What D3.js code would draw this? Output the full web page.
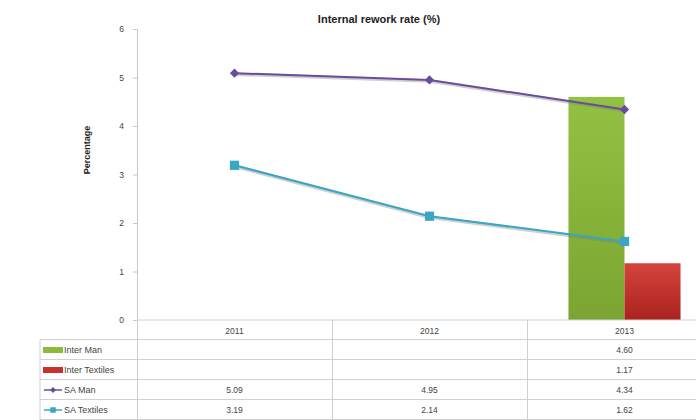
<!DOCTYPE html>
<html>
<head>
<meta charset="utf-8">
<script src="https://cdn.jsdelivr.net/npm/d3@7"></script>
<style>
  body { margin: 0; background: #fff; }
  text { font-family: "Liberation Sans", Arial, sans-serif; }
</style>
</head>
<body>
<svg id="chart" width="696" height="420"></svg>
<script>
var years = ["2011", "2012", "2013"];
var barSeries = ["Inter Man", "Inter Textiles"];
var interMan = [null, null, 4.60];
var interTextiles = [null, null, 1.17];
var saMan = [5.09, 4.95, 4.34];
var saTextiles = [3.19, 2.14, 1.62];
var yTicks = [0, 1, 2, 3, 4, 5, 6];

var svg = d3.select("#chart");
var plotLeft = 137, plotRight = 722, plotTop = 29, plotBottom = 320;
var rowH = 20, tableLeft = 40;

var x = d3.scaleBand().domain(years).range([plotLeft, plotRight]);
var y = d3.scaleLinear().domain([0, 6]).range([plotBottom, plotTop]);
var xInner = d3.scaleBand().domain(barSeries).range([0, x.bandwidth()])
    .paddingInner(0).paddingOuter(0.74);

// gradients for the bars
var defs = svg.append("defs");
function grad(id, c1, c2) {
    var g = defs.append("linearGradient").attr("id", id)
        .attr("x1", 0).attr("y1", 0).attr("x2", 0).attr("y2", 1);
    g.append("stop").attr("offset", "0%").attr("stop-color", c1);
    g.append("stop").attr("offset", "100%").attr("stop-color", c2);
}
grad("gGreen", "#93C143", "#7BA532");
grad("gRed", "#D6443C", "#A9221F");

var barData = [];
years.forEach(function(yr, i) {
    if (interMan[i] != null) barData.push({year: yr, s: "Inter Man", v: interMan[i], fill: "url(#gGreen)"});
    if (interTextiles[i] != null) barData.push({year: yr, s: "Inter Textiles", v: interTextiles[i], fill: "url(#gRed)"});
});

// title
svg.append("text").attr("x", 379).attr("y", 23)
    .attr("text-anchor", "middle").style("font-size", "11px").style("font-weight", "bold")
    .attr("fill", "#222").text("Internal rework rate (%)");

// y axis title
svg.append("text").attr("transform", "translate(90,150) rotate(-90)")
    .attr("text-anchor", "middle").style("font-size", "9px").style("font-weight", "bold")
    .attr("fill", "#222").text("Percentage");

// y axis
var yAxis = svg.append("g").attr("transform", "translate(" + plotLeft + ",0)")
    .call(d3.axisLeft(y).tickValues(yTicks).tickFormat(d3.format("d")).tickSize(4).tickPadding(9));
yAxis.select(".domain").attr("stroke", "#c8c8c8");
yAxis.selectAll(".tick line").attr("stroke", "#c8c8c8");
yAxis.selectAll(".tick text").attr("fill", "#444").style("font-size", "8.5px")
    .style("font-family", "Liberation Sans, Arial, sans-serif");

// bars
svg.append("g").selectAll("rect").data(barData).enter().append("rect")
    .attr("x", function(d) { return x(d.year) + xInner(d.s); })
    .attr("y", function(d) { return y(d.v); })
    .attr("width", xInner.bandwidth())
    .attr("height", function(d) { return y(0) - y(d.v); })
    .attr("fill", function(d) { return d.fill; });

// lines
var line = d3.line()
    .x(function(d, i) { return x(years[i]) + x.bandwidth() / 2; })
    .y(function(d) { return y(d); });

function drawLine(vals, color, shape, size) {
    var g = svg.append("g");
    g.append("path").attr("d", line(vals)).attr("fill", "none")
        .attr("stroke", "#777").attr("stroke-opacity", 0.35).attr("stroke-width", 3.5)
        .attr("transform", "translate(0,1)");
    g.append("path").attr("d", line(vals)).attr("fill", "none")
        .attr("stroke", color).attr("stroke-width", 2);
    g.selectAll("path.m").data(vals).enter().append("path").attr("class", "m")
        .attr("transform", function(d, i) { return "translate(" + (x(years[i]) + x.bandwidth() / 2) + "," + y(d) + ")"; })
        .attr("d", d3.symbol().type(shape).size(size))
        .attr("fill", color);
}
drawLine(saMan, "#6A4C9C", d3.symbolDiamond2, 55);
drawLine(saTextiles, "#3AA5C4", d3.symbolSquare, 85);

// data table
var tbl = svg.append("g");
var gridColor = "#d0d0d0";
var rows = [
    {name: "Inter Man", vals: interMan, key: "bar", color: "#8CBB3C"},
    {name: "Inter Textiles", vals: interTextiles, key: "bar", color: "#C8322D"},
    {name: "SA Man", vals: saMan, key: "line", color: "#6A4C9C", shape: d3.symbolDiamond2, size: 22},
    {name: "SA Textiles", vals: saTextiles, key: "line", color: "#3AA5C4", shape: d3.symbolSquare, size: 30}
];

// horizontal rules
tbl.append("line").attr("x1", plotLeft).attr("x2", 696).attr("y1", plotBottom).attr("y2", plotBottom)
    .attr("stroke", gridColor);
d3.range(rows.length + 1).forEach(function(r) {
    var yy = plotBottom + rowH * (r + 1) - 0.5;
    tbl.append("line").attr("x1", tableLeft).attr("x2", 696).attr("y1", yy).attr("y2", yy)
        .attr("stroke", gridColor);
});
// vertical rules
tbl.append("line").attr("x1", tableLeft).attr("x2", tableLeft)
    .attr("y1", plotBottom + rowH).attr("y2", plotBottom + rowH * 5).attr("stroke", gridColor);
years.forEach(function(yr) {
    tbl.append("line").attr("x1", x(yr) + 0.5).attr("x2", x(yr) + 0.5)
        .attr("y1", plotBottom).attr("y2", plotBottom + rowH * 5).attr("stroke", gridColor);
});

// header
tbl.selectAll("text.yr").data(years).enter().append("text").attr("class", "yr")
    .attr("x", function(d) { return x(d) + x.bandwidth() / 2; })
    .attr("y", plotBottom + 14).attr("text-anchor", "middle")
    .style("font-size", "8.5px").attr("fill", "#444").text(function(d) { return d; });

rows.forEach(function(row, r) {
    var cy = plotBottom + rowH * (r + 1) + rowH / 2;
    if (row.key === "bar") {
        tbl.append("rect").attr("x", 43).attr("y", cy - 3).attr("width", 20).attr("height", 6)
            .attr("fill", row.color);
    } else {
        tbl.append("line").attr("x1", 44).attr("x2", 62).attr("y1", cy).attr("y2", cy)
            .attr("stroke", row.color).attr("stroke-width", 1.5);
        tbl.append("path").attr("transform", "translate(53," + cy + ")")
            .attr("d", d3.symbol().type(row.shape).size(row.size)).attr("fill", row.color);
    }
    tbl.append("text").attr("x", 64).attr("y", cy + 3)
        .style("font-size", "9px").attr("fill", "#444").text(row.name);
    row.vals.forEach(function(v, i) {
        if (v == null) return;
        tbl.append("text").attr("x", x(years[i]) + x.bandwidth() / 2).attr("y", cy + 3)
            .attr("text-anchor", "middle").style("font-size", "8.5px").attr("fill", "#444")
            .text(v.toFixed(2));
    });
});
</script>
</body>
</html>
